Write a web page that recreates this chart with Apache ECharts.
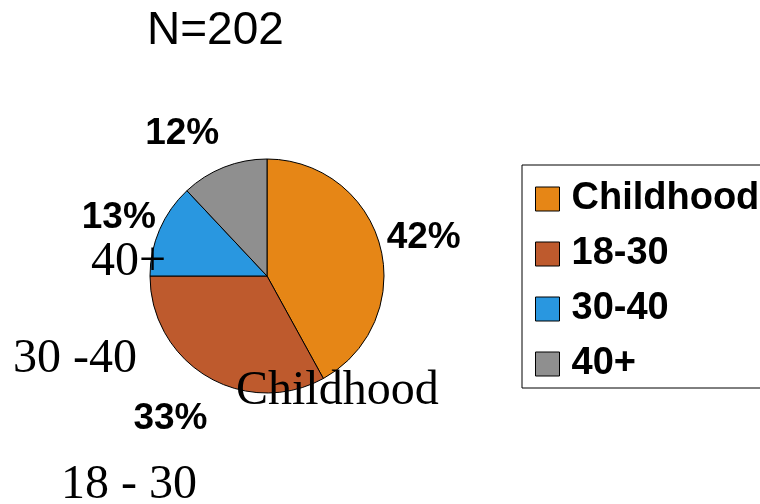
<!DOCTYPE html>
<html>
<head>
<meta charset="utf-8">
<script src="https://cdn.jsdelivr.net/npm/echarts@6/dist/echarts.min.js"></script>
<style>html,body{margin:0;padding:0;background:#fff;}#chart{width:760px;height:504px;}</style>
</head>
<body>
<div id="chart"></div>
<script>
const titleText = 'N=202';
const categories = ['Childhood', '18-30', '30-40', '40+'];
const percentValues = [42, 33, 13, 12];
const sliceColors = ['#E68616', '#BE5A2D', '#2997E0', '#8F8F8F'];
const strayLabels = ['40+', '30 -40', 'Childhood', '18 - 30'];

const pieData = categories.map((name, i) => ({
  name: name,
  value: percentValues[i],
  itemStyle: { color: sliceColors[i] }
}));
const ringData = categories.map((name, i) => ({
  name: name,
  value: percentValues[i],
  itemStyle: { color: 'rgba(0,0,0,0)', borderWidth: 0 }
}));

const chart = echarts.init(document.getElementById('chart'), null, { renderer: 'canvas' });
const serif = '48px "Liberation Serif", "Times New Roman", serif';
const strayPos = [[91, 262], [13, 359], [236, 391], [61, 485]];
const labelNudge = [[-6, 4], [-11, -2], [6, 9], [-23, 14]];

chart.setOption({
  animation: false,
  backgroundColor: '#ffffff',
  title: {
    text: titleText,
    left: 147,
    top: 8,
    padding: 0,
    textStyle: { fontFamily: 'Arial, "Liberation Sans", sans-serif', fontSize: 46, fontWeight: 'normal', color: '#000' }
  },
  legend: {
    data: categories,
    orient: 'vertical',
    left: 522,
    top: 165,
    itemWidth: 24,
    itemHeight: 24,
    itemGap: 17,
    padding: [15, 40, 5, 13],
    borderColor: '#000',
    borderWidth: 1,
    selectedMode: false,
    icon: 'rect',
    itemStyle: { borderColor: '#000', borderWidth: 1 },
    textStyle: {
      fontFamily: 'Arial, "Liberation Sans", sans-serif',
      fontSize: 38,
      fontWeight: 'bold',
      color: '#000',
      padding: [0, 0, 0, 7]
    }
  },
  series: [
    {
      type: 'pie',
      name: 'main',
      center: [267, 276],
      radius: 117,
      startAngle: 90,
      clockwise: true,
      silent: true,
      label: { show: false },
      labelLine: { show: false },
      itemStyle: { borderColor: '#000', borderWidth: 1 },
      emphasis: { disabled: true },
      data: pieData
    },
    {
      type: 'pie',
      name: 'labels',
      center: [267, 276],
      radius: [150, 180],
      startAngle: 90,
      clockwise: true,
      silent: true,
      avoidLabelOverlap: false,
      emphasis: { disabled: true },
      labelLine: { show: false },
      label: {
        show: true,
        position: 'inside',
        formatter: '{c}%',
        fontFamily: 'Arial, "Liberation Sans", sans-serif',
        fontSize: 37,
        fontWeight: 'bold',
        color: '#000'
      },
      labelLayout: function (params) {
        const n = labelNudge[params.dataIndex] || [0, 0];
        return { dx: n[0], dy: n[1] };
      },
      data: ringData
    }
  ],
  graphic: strayLabels.map((t, i) => ({
    type: 'text',
    z: 100,
    x: strayPos[i][0],
    y: strayPos[i][1],
    style: {
      text: t,
      font: serif,
      fill: '#000',
      textAlign: 'left',
      textVerticalAlign: 'middle'
    }
  }))
});
</script>
</body>
</html>
